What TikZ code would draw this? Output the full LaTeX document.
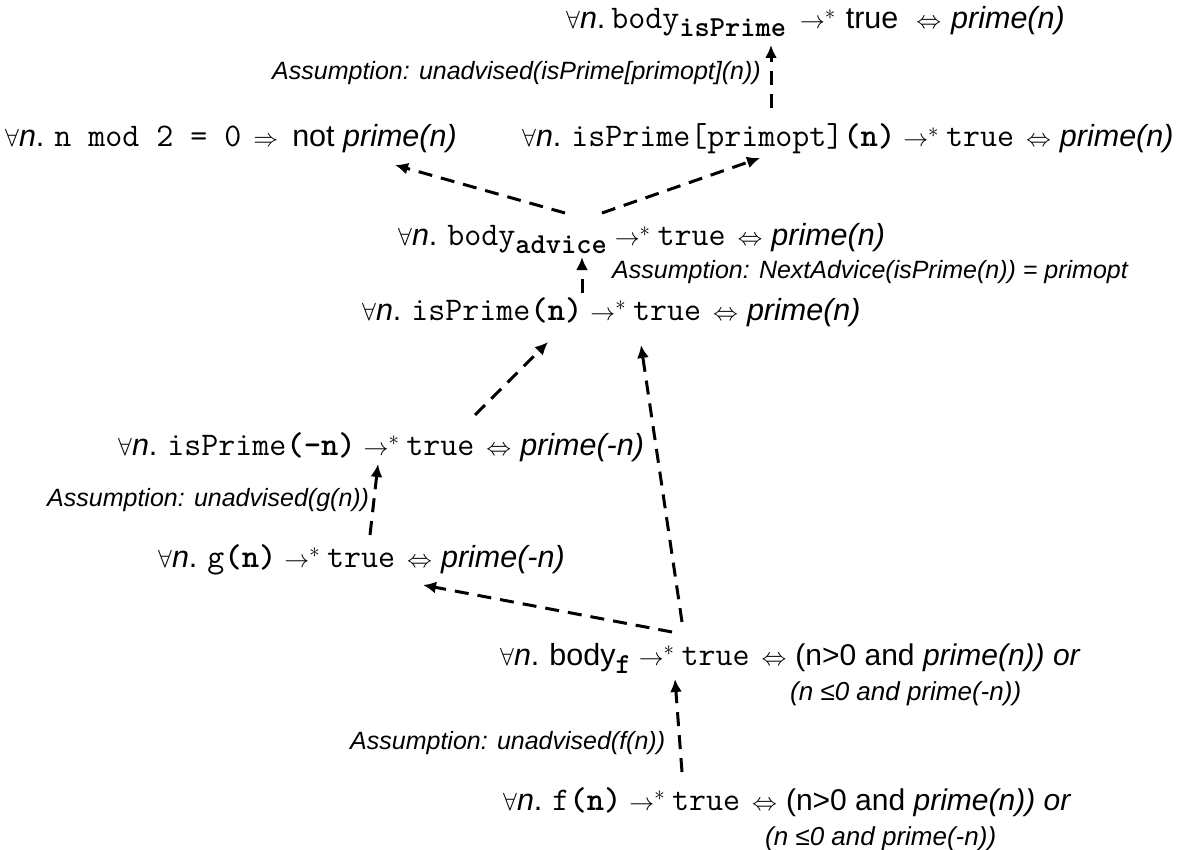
\documentclass[tikz,border=0pt]{standalone}
\usepackage{fontspec}
\setmainfont{Liberation Sans}
\usetikzlibrary{arrows.meta}
\newcommand\sansf{\fontsize{25}{30}\selectfont}
\newcommand\stf{\fontsize{30.5}{32}\selectfont}
\newcommand\sttwo{\fontsize{26}{30}\selectfont}
\newcommand\mtt[1]{{\fontsize{33}{33}\selectfont\ttfamily #1}}
\newcommand\mttb[1]{{\fontsize{33}{33}\selectfont\ttfamily\bfseries #1}}
\newcommand\fan{$\forall$\textit{n}.\hspace{10pt}}
\newcommand\rast{\hspace{8pt}$\rightarrow^{*}$\hspace{7pt}}
\newcommand\eqv{\hspace{12pt}$\Leftrightarrow$\hspace{9pt}}
\newcommand\subb[1]{\raisebox{-8pt}{\fontsize{29}{30}\selectfont\ttfamily\bfseries #1}}
\newcommand\orpart{{\fontsize{30}{32}\selectfont (n>0 and \textit{prime(n)) or}}}
\begin{document}
\begin{tikzpicture}[x=1pt,y=-1pt,
  every node/.style={inner sep=0pt,anchor=base west,font=\sansf},
  stmt/.style={font=\stf},
  line2/.style={font=\sttwo\itshape},
  lab/.style={font=\sansf\itshape},
  conn/.style={line width=3pt,dash pattern=on 14pt off 9pt,-{Latex[length=13pt,width=12pt]}}]
\useasboundingbox (0,0) rectangle (1182,850);
% statements
\node[stmt] (top) at (566,29) {$\forall$\textit{n}.\hspace{6pt}\mtt{body}\subb{isPrime}\hspace{14pt}$\rightarrow^{*}$\hspace{10pt}true\hspace{18pt}$\Leftrightarrow$\hspace{10pt}\textit{prime(n)}};
\node[stmt] (mod) at (5,147) {\fan\mtt{n mod 2 = 0}\hspace{12pt}$\Rightarrow$\hspace{14pt}not \textit{prime(n)}};
\node[stmt] (opt) at (522,147) {\fan\mtt{isPrime[primopt]}\mttb{(n)}\rast\mtt{true}\eqv\textit{prime(n)}};
\node[stmt] (adv) at (398,246) {\fan\mtt{body}\subb{advice}\rast\mtt{true}\eqv\textit{prime(n)}};
\node[stmt] (isp) at (362,320) {\fan\mtt{isPrime}\mttb{(n)}\rast\mtt{true}\eqv\textit{prime(n)}};
\node[stmt] (ispn) at (118,455) {\fan\mtt{isPrime}\mttb{(-n)}\rast\mtt{true}\eqv\textit{prime(-n)}};
\node[stmt] (g) at (158,567) {\fan\mtt{g}\mttb{(n)}\rast\mtt{true}\eqv\textit{prime(-n)}};
\node[stmt] (bf) at (500,665) {\fan body\subb{f}\rast\mtt{true}\eqv\orpart};
\node[line2] (bf2) at (790,700) {(n ≤0 and prime(-n))};
\node[stmt] (f) at (503,810) {\fan\mtt{f}\mttb{(n)}\rast\mtt{true}\eqv\orpart};
\node[line2] (f2) at (765,845) {(n ≤0 and prime(-n))};
% labels
\node[lab] (l1) at (272,80) {Assumption: unadvised(isPrime[primopt](n))};
\node[lab] (l2) at (612,278) {Assumption: NextAdvice(isPrime(n)) = primopt};
\node[lab] (l3) at (47,506) {Assumption: unadvised(g(n))};
\node[lab] (l4) at (350,749) {Assumption: unadvised(f(n))};
% connector end points
\coordinate (optT) at (771,108);
\coordinate (topB) at (771,45);
\coordinate (advL) at (565,213);
\coordinate (modB) at (395,165);
\coordinate (advR) at (602,213);
\coordinate (optB) at (760,158);
\coordinate (ispT) at (582,293);
\coordinate (advB) at (582,257);
\coordinate (ispnT) at (475,415);
\coordinate (ispB1) at (548,342);
\coordinate (bfT1) at (682,622);
\coordinate (ispB2) at (641,345);
\coordinate (gT) at (370,535);
\coordinate (ispnB) at (378,464);
\coordinate (bfT2) at (672,632);
\coordinate (gB) at (423,585);
\coordinate (fT) at (682,772);
\coordinate (bfB) at (675,679);
\draw[conn] (optT) -- (topB);
\draw[conn] (advL) -- (modB);
\draw[conn] (advR) -- (optB);
\draw[conn] (ispT) -- (advB);
\draw[conn] (ispnT) -- (ispB1);
\draw[conn] (bfT1) -- (ispB2);
\draw[conn] (gT) -- (ispnB);
\draw[conn] (bfT2) -- (gB);
\draw[conn] (fT) -- (bfB);
\end{tikzpicture}
\end{document}
